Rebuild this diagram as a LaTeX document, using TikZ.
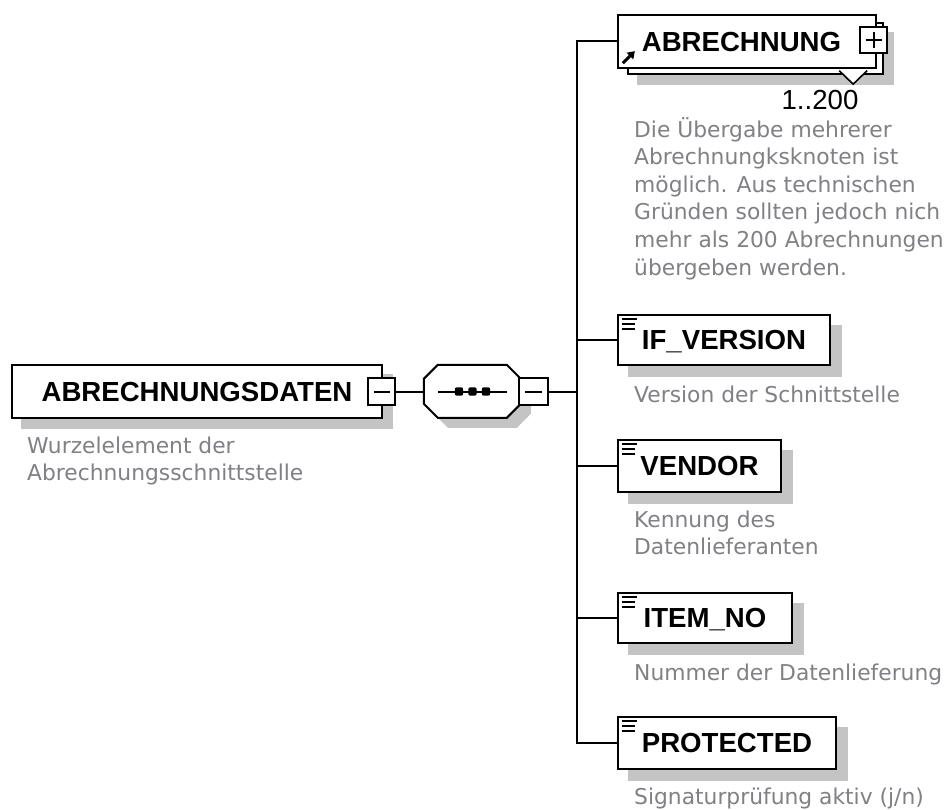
\documentclass[tikz,border=0pt]{standalone}
\usepackage{fontspec}
\setmainfont{Liberation Sans}
\newfontfamily\descfont{DejaVu Sans}
\usetikzlibrary{calc,arrows.meta}
\definecolor{shadowgray}{RGB}{196,196,196}
\definecolor{descgray}{RGB}{128,128,134}
\pgfdeclarelayer{bg}
\pgfsetlayers{bg,main}
\newcommand\lblfont{\fontsize{27.6}{30}\selectfont\bfseries}
\newcommand\dropshadow[2]{\begin{pgfonlayer}{bg}\fill[shadowgray] ($(#1.north west)+(#2,#2)$) rectangle ($(#1.south east)+(#2,#2)$);\end{pgfonlayer}}
\newcommand\simpleicon[1]{\draw[line width=2pt] ($(#1.north west)+(5,5)$) -- ++(15,0) ($(#1.north west)+(5,10)$) -- ++(13,0) ($(#1.north west)+(5,15)$) -- ++(13,0);}
\tikzset{
  elem/.style={draw=black, line width=2.3pt, fill=white, inner sep=0pt, font=\lblfont, text=black, text height=19.8pt, text depth=0pt},
  conn/.style={line width=2pt, draw=black},
  pmbox/.style={draw=black, line width=2pt, fill=white, minimum width=27pt, minimum height=27pt, inner sep=0pt},
  desc/.style={anchor=north west, inner sep=0pt, align=left, text=descgray, font=\descfont\fontsize{21.8}{27.6}\selectfont},
  hidden/.style={inner sep=0pt}
}
\newcommand\dstrut{\rule{0pt}{22pt}}
\begin{document}
\begin{tikzpicture}[x=1pt,y=-1pt]
\begin{pgfonlayer}{bg}
\fill[white] (0,0) rectangle (952,810);
\end{pgfonlayer}
\useasboundingbox (0,0) rectangle (952,810);

% root element
\node[elem, minimum width=370pt, minimum height=53pt] (root) at (197,391.5) {ABRECHNUNGSDATEN};
\dropshadow{root}{10}
\node[pmbox] (rootminus) at (381.5,391.5) {};
\draw[line width=2pt] ($(rootminus.center)+(-8,0)$) -- ($(rootminus.center)+(8,0)$);
\node[desc] (rootdesc) at (27,431) {\dstrut Wurzelelement der\\Abrechnungsschnittstelle};

% sequence compositor
\node[hidden, minimum width=97pt, minimum height=53pt] (seq) at (472.5,391.5) {};
\begin{pgfonlayer}{bg}
\fill[shadowgray] ($(seq.north west)+(10,24)$) -- ++(14,-14) -- ++(69,0) -- ++(14,14) -- ++(0,25) -- ++(-14,14) -- ++(-69,0) -- ++(-14,-14) -- cycle;
\end{pgfonlayer}
\draw[line width=2pt, fill=white] ($(seq.north west)+(0,14)$) -- ++(14,-14) -- ++(69,0) -- ++(14,14) -- ++(0,25) -- ++(-14,14) -- ++(-69,0) -- ++(-14,-14) -- cycle;
\draw[line width=2pt] ($(seq.west)+(14,0)$) -- ($(seq.east)+(-14,0)$);
\foreach \dx in {-13.5,0,13.5} \fill[rounded corners=2pt] ($(seq.center)+(\dx-4.2,-4.2)$) rectangle ($(seq.center)+(\dx+4.2,4.2)$);
\node[pmbox, minimum width=29pt] (seqminus) at (533.5,391.5) {};
\draw[line width=2pt] ($(seqminus.center)+(-8.5,0)$) -- ($(seqminus.center)+(8.5,0)$);
\draw[conn] (rootminus.east) -- (seq.west);

% bus
\coordinate (bt) at (577,41.5);

% ABRECHNUNG (repeated element)
\node[draw=black, line width=2.3pt, fill=white, inner sep=0pt, minimum width=255pt, minimum height=51pt] (abrback) at (755.5,48.5) {};
\dropshadow{abrback}{10}
\node[elem, minimum width=258pt, minimum height=53pt] (abr) at (747,41.5) {\hspace*{-11pt}ABRECHNUNG};
\node[pmbox, minimum height=26pt] (abrplus) at (873.5,40) {};
\draw[line width=2pt] ($(abrplus.center)+(-8,0)$) -- ($(abrplus.center)+(8,0)$) ($(abrplus.center)+(0,-8)$) -- ($(abrplus.center)+(0,8)$);
\filldraw[fill=white, draw=black, line width=1.6pt] ($(abr.south east)+(-38,1.5)$) -- ($(abr.south east)+(-24,15)$) -- ($(abr.south east)+(-10,1.5)$);
\draw[line width=3pt, -{Triangle[length=7pt,width=9pt]}] ($(abr.south west)+(6,-6)$) -- ($(abr.south west)+(18,-18)$);
\node[anchor=base, inner sep=0pt, font=\fontsize{27.6}{30}\selectfont, text=black] (abrcard) at (820,110) {1..200};
\node[desc] (abrdesc) at (634,115) {\dstrut Die Übergabe mehrerer\\Abrechnungksknoten ist\\möglich. Aus technischen\\Gründen sollten jedoch nich\\mehr als 200 Abrechnungen\\übergeben werden.};

% IF_VERSION
\node[elem, minimum width=212pt, minimum height=50pt] (ifv) at (724,340) {IF\_VERSION};
\dropshadow{ifv}{11}
\simpleicon{ifv}
\node[desc] (ifvdesc) at (634,380) {\dstrut Version der Schnittstelle};

% VENDOR
\node[elem, minimum width=163pt, minimum height=52pt] (vendor) at (699.5,466) {VENDOR};
\dropshadow{vendor}{11}
\simpleicon{vendor}
\node[desc] (vendordesc) at (634,505) {\dstrut Kennung des\\Datenlieferanten};

% ITEM_NO
\node[elem, minimum width=174pt, minimum height=50pt] (item) at (705,618) {ITEM\_NO};
\dropshadow{item}{11}
\simpleicon{item}
\node[desc] (itemdesc) at (634,658) {\dstrut Nummer der Datenlieferung};

% PROTECTED
\node[elem, minimum width=218pt, minimum height=52pt] (prot) at (727,743) {PROTECTED};
\dropshadow{prot}{11}
\simpleicon{prot}
\node[desc] (protdesc) at (634,782) {\dstrut Signaturprüfung aktiv (j/n)};

% connectors
\draw[conn] (seqminus.east) -- (seqminus.east -| bt);
\draw[conn] (abr.west) -- (abr.west -| bt) -- (prot.west -| bt) -- (prot.west);
\draw[conn] (ifv.west -| bt) -- (ifv.west);
\draw[conn] (vendor.west -| bt) -- (vendor.west);
\draw[conn] (item.west -| bt) -- (item.west);
\end{tikzpicture}
\end{document}
